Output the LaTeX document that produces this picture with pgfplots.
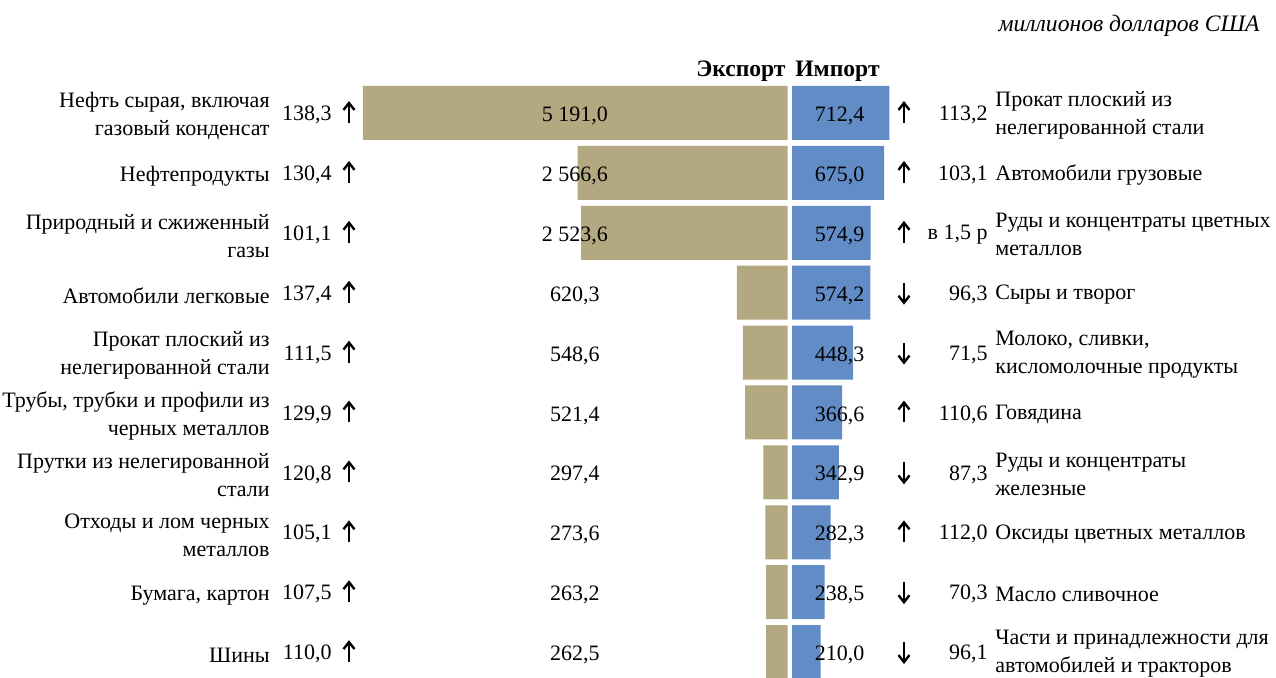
\documentclass[border=0pt]{standalone}
\usepackage{pgfplots}
\pgfplotsset{compat=1.18}
\usepackage{fontspec}
\setmainfont{Liberation Serif}
\definecolor{exp}{RGB}{179,168,128}
\definecolor{imp}{RGB}{98,140,198}
\begin{document}
\fontsize{11bp}{14bp}\selectfont
\begin{tikzpicture}
\path[use as bounding box] (0,0) rectangle (638bp,-339bp);
% Export (left)
\begin{axis}[
  anchor=north east, at={(393.85bp,-41.5bp)},
  scale only axis, width=212.35bp, height=299.5bp,
  xmin=0, xmax=5191, ymin=0.5, ymax=10.5,
  x dir=reverse, y dir=reverse, enlargelimits=false,
  hide axis, clip=false,
  xbar, bar width=27bp,
]
\addplot[fill=exp, draw=none] coordinates {
(5191.0,1) (2566.6,2) (2523.6,3) (620.3,4) (548.6,5)
(521.4,6) (297.4,7) (273.6,8) (263.2,9) (262.5,10)};
\foreach \v [count=\i] in {5 191{,}0, 2 566{,}6, 2 523{,}6, 620{,}3, 548{,}6, 521{,}4, 297{,}4, 273{,}6, 263{,}2, 262{,}5}{
  \edef\temp{\noexpand\node[yshift=-1.5bp] at (axis cs:2600,\i) {\v};}\temp
}
\end{axis}
% Import (right)
\begin{axis}[
  anchor=north west, at={(396bp,-41.5bp)},
  scale only axis, width=68.3bp, height=299.5bp,
  xmin=0, xmax=1000, ymin=0.5, ymax=10.5,
  y dir=reverse, enlargelimits=false,
  hide axis, clip=false,
  xbar, bar width=27bp,
]
\addplot[fill=imp, draw=none] coordinates {
(712.4,1) (675.0,2) (574.9,3) (574.2,4) (448.3,5)
(366.6,6) (342.9,7) (282.3,8) (238.5,9) (210.0,10)};
\foreach \v [count=\i] in {712{,}4, 675{,}0, 574{,}9, 574{,}2, 448{,}3, 366{,}6, 342{,}9, 282{,}3, 238{,}5, 210{,}0}{
  \edef\temp{\noexpand\node[yshift=-1.5bp] at (axis cs:348,\i) {\v};}\temp
}
\end{axis}
\begin{scope}[x=0.5bp,y=-0.5bp,every node/.style={inner sep=0pt}]
\node[anchor=east,font=\fontsize{11.8bp}{14bp}\selectfont\bfseries] at (786,71) {Экспорт};
\node[anchor=west,font=\fontsize{11.8bp}{14bp}\selectfont\bfseries] at (795,71) {Импорт};
\node[anchor=east,font=\fontsize{11.8bp}{14bp}\selectfont\itshape] at (1260,26) {миллионов долларов США};
% left labels
\foreach \t/\p [count=\i] in {
 {Нефть сырая, включая\\газовый конденсат}/{138,3},
 {Нефтепродукты}/{130,4},
 {Природный и сжиженный\\газы}/{101,1},
 {Автомобили легковые}/{137,4},
 {Прокат плоский из\\нелегированной стали}/{111,5},
 {Трубы, трубки и профили из\\черных металлов}/{129,9},
 {Прутки из нелегированной\\стали}/{120,8},
 {Отходы и лом черных\\металлов}/{105,1},
 {Бумага, картон}/{107,5},
 {Шины}/{110,0}}{
 \pgfmathsetmacro\yc{113+59.9*(\i-1)}
 \node[anchor=east,align=right] at (270,\yc+3) {\t};
 \node[anchor=east] at (332,\yc+2) {\p};
 \draw[line width=1.2bp] (349,\yc+10) -- (349,\yc-10);
 \draw[line width=1.2bp,line join=miter] (343.5,\yc-3) -- (349,\yc-10) -- (354.5,\yc-3);
}
% right labels
\foreach \t/\p/\d [count=\i] in {
 {Прокат плоский из\\нелегированной стали}/{113,2}/1,
 {Автомобили грузовые}/{103,1}/1,
 {Руды и концентраты цветных\\металлов}/{в 1,5 р}/1,
 {Сыры и творог}/{96,3}/-1,
 {Молоко, сливки,\\кисломолочные продукты}/{71,5}/-1,
 {Говядина}/{110,6}/1,
 {Руды и концентраты\\железные}/{87,3}/-1,
 {Оксиды цветных металлов}/{112,0}/1,
 {Масло сливочное}/{70,3}/-1,
 {Части и принадлежности для\\автомобилей и тракторов}/{96,1}/-1}{
 \pgfmathsetmacro\yc{113+59.9*(\i-1)}
 \node[anchor=west,align=left] at (995,\yc+2) {\t};
 \node[anchor=east] at (988,\yc+2) {\p};
 \draw[line width=1.2bp] (904,\yc+10) -- (904,\yc-10);
 \draw[line width=1.2bp,line join=miter] (898.5,\yc-3*\d) -- (904,\yc-10*\d) -- (909.5,\yc-3*\d);
}
\end{scope}
\end{tikzpicture}
\end{document}
